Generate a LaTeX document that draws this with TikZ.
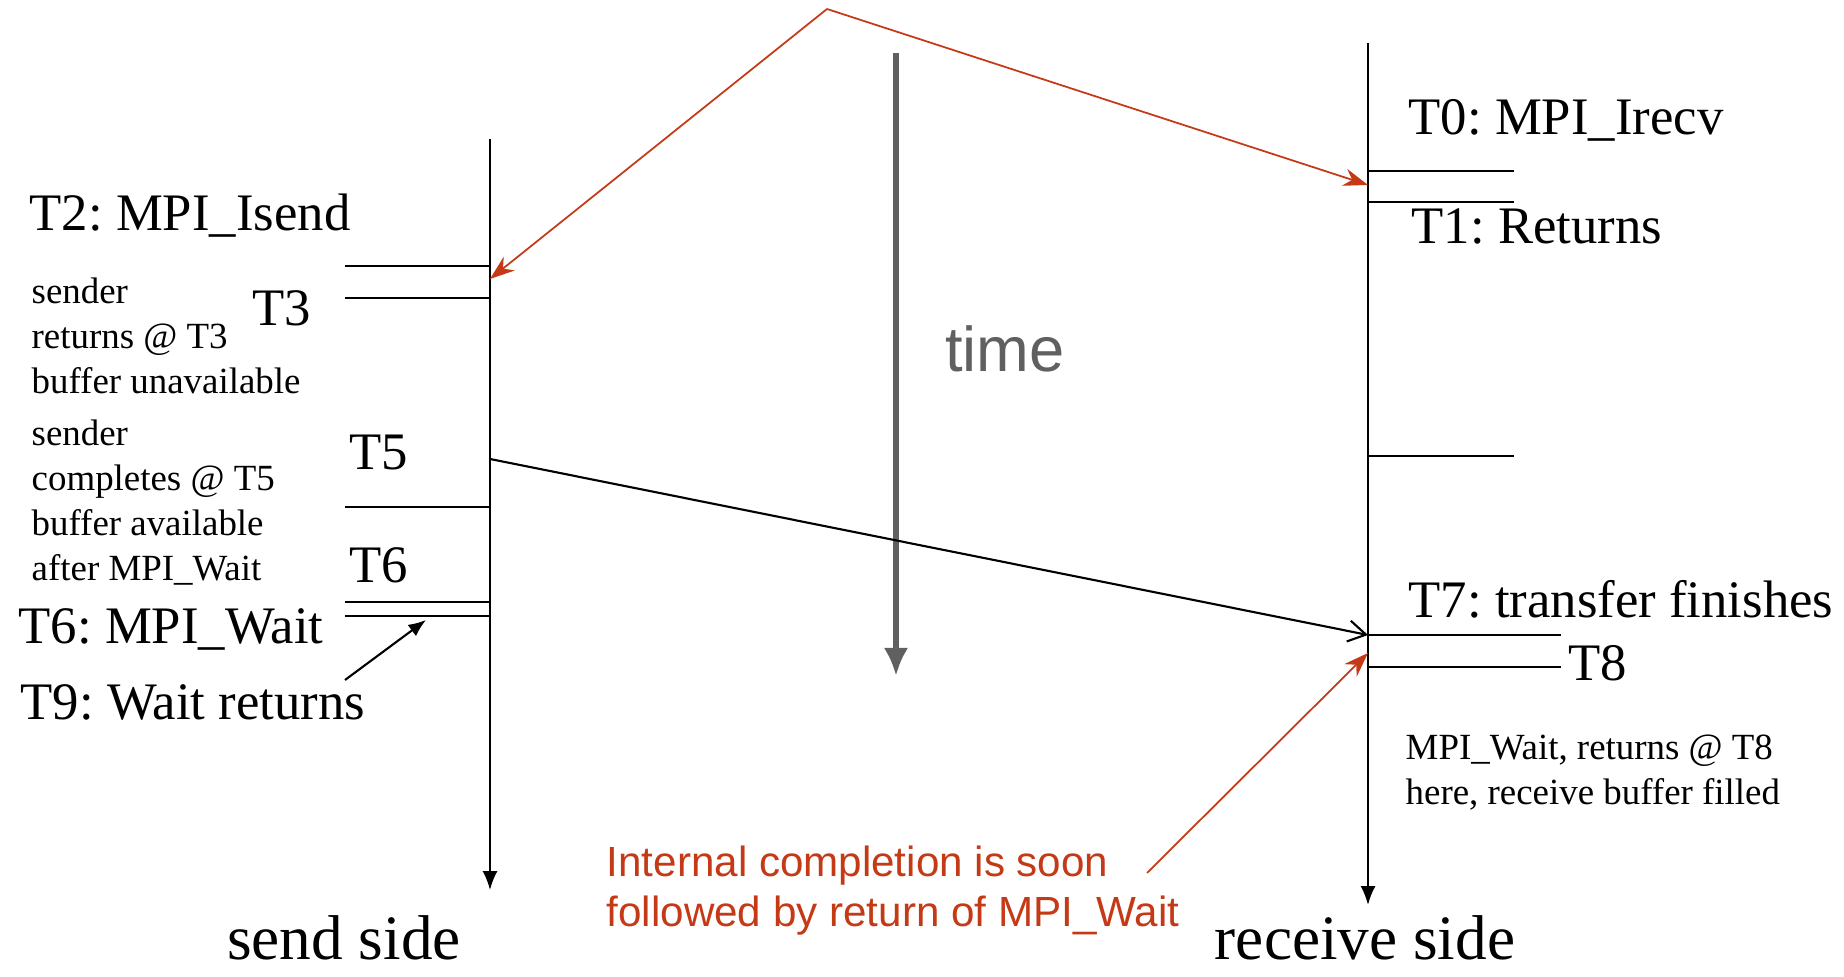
\documentclass[tikz,border=0pt]{standalone}
\usepackage{fontspec}
\setmainfont{Liberation Serif}
\newfontfamily\arialfont{Liberation Sans}
\usetikzlibrary{arrows.meta}
\definecolor{callred}{RGB}{197,58,22}
\definecolor{timegray}{RGB}{96,96,96}
\frenchspacing

\begin{document}
\begin{tikzpicture}[
    axis/.style={line width=0.6pt, -{Latex[length=5.4pt,width=4.3pt]}},
    tick/.style={line width=0.6pt},
    big/.style={font=\fontsize{15}{18}\selectfont, inner sep=0pt},
    small/.style={font=\fontsize{10.5}{12.8}\selectfont, align=left, inner sep=0pt},
    side/.style={font=\fontsize{18}{20}\selectfont, inner sep=0pt, anchor=base},
    note/.style={line width=0.5pt, draw=callred, -{Stealth[length=7pt,width=5pt]}},
  ]
    \useasboundingbox (0,0) rectangle (18.44,-9.77);

    % --- the two process lines ---
    \coordinate (sendtop) at (4.90,-1.39);
    \coordinate (sendbot) at (4.90,-8.90);
    \coordinate (recvtop) at (13.68,-0.43);
    \coordinate (recvbot) at (13.68,-9.05);
    \draw[axis] (sendtop) -- (sendbot);
    \draw[axis] (recvtop) -- (recvbot);

    % --- time arrow ---
    \coordinate (timetop) at (8.96,-0.53);
    \coordinate (timebot) at (8.96,-6.76);
    \draw[line width=1.7pt, timegray, -{Latex[length=8pt,width=7pt]}] (timetop) -- (timebot);
    \node[font=\arialfont\fontsize{18}{20}\selectfont, text=timegray] (time) at (10.05,-3.49) {time};

    % --- ticks on send side ---
    \foreach \y in {2.66,2.98,5.07,6.02,6.16}
      \draw[tick] (3.45,-\y) -- (4.90,-\y);
    % --- ticks on receive side ---
    \foreach \y in {1.71,2.02,4.56}
      \draw[tick] (13.68,-\y) -- (15.14,-\y);
    \foreach \y in {6.35,6.67}
      \draw[tick] (13.68,-\y) -- (15.61,-\y);

    % --- send side labels ---
    \node[big, anchor=base west] (isend) at (0.29,-2.31) {T2: MPI\_Isend};
    \node[small, anchor=west] (sret) at (0.31,-3.36) {sender\\returns @ T3\\buffer unavailable};
    \node[big, anchor=base] (tthree) at (2.82,-3.26) {T3};
    \node[small, anchor=west] (scomp) at (0.31,-5.03) {sender\\completes @ T5\\buffer available\\after MPI\_Wait};
    \node[big, anchor=base] (tfive) at (3.79,-4.70) {T5};
    \node[big, anchor=base] (tsix) at (3.79,-5.83) {T6};
    \node[big, anchor=base west] (wait) at (0.18,-6.44) {T6: MPI\_Wait};
    \node[big, anchor=base west] (waitret) at (0.20,-7.20) {T9: Wait returns};
    \node[side] (sendside) at (3.44,-9.60) {send side};

    % --- receive side labels ---
    \node[big, anchor=base west] (irecv) at (14.08,-1.35) {T0: MPI\_Irecv};
    \node[big, anchor=base west] (returns) at (14.11,-2.44) {T1: Returns};
    \node[big, anchor=base west] (transfer) at (14.08,-6.18) {T7: transfer finishes};
    \node[big, anchor=base west] (teight) at (15.68,-6.81) {T8};
    \node[small, anchor=west] (rwait) at (14.05,-7.73) {MPI\_Wait, returns @ T8\\here, receive buffer filled};
    \node[side] (recvside) at (13.65,-9.60) {receive side};

    % --- message and waits ---
    \coordinate (sendT5) at (4.90,-4.59);
    \coordinate (recvT7) at (13.68,-6.35);
    \draw[line width=0.6pt, -{Straight Barb[length=5pt,width=6pt]}] (sendT5) -- (recvT7);
    \coordinate (waittail) at (3.45,-6.80);
    \coordinate (waithead) at (4.26,-6.20);
    \draw[line width=0.6pt, -{Latex[length=5pt,width=4pt]}] (waittail) -- (waithead);

    % --- red call-outs ---
    \coordinate (apex) at (8.27,-0.09);
    \coordinate (sendret) at (4.90,-2.79);
    \coordinate (recvret) at (13.68,-1.85);
    \draw[note] (apex) -- (sendret);
    \draw[note] (apex) -- (recvret);
    \node[font=\arialfont\fontsize{12}{14.2}\selectfont, text=callred, align=left, anchor=west, inner sep=0pt] (internal) at (6.06,-8.91) {Internal completion is soon\\followed by return of MPI\_Wait};
    \coordinate (notefoot) at (11.47,-8.73);
    \coordinate (recvwait) at (13.68,-6.53);
    \draw[note] (notefoot) -- (recvwait);

\end{tikzpicture}
\end{document}
